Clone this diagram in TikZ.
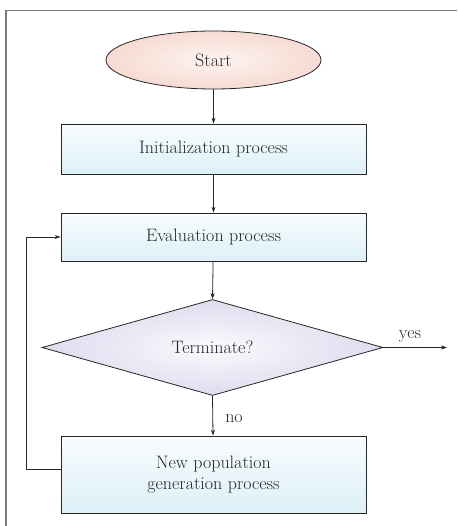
\documentclass[tikz,border=0pt]{standalone}
\usetikzlibrary{shapes.geometric,arrows.meta}
\definecolor{peachedge}{HTML}{F6DBD2}
\definecolor{peachmid}{HTML}{FDF4F1}
\definecolor{boxtop}{HTML}{F8FCFE}
\definecolor{boxbot}{HTML}{DDF0F8}
\definecolor{lavedge}{HTML}{DCDCEF}
\definecolor{lavmid}{HTML}{FAFAFD}
\definecolor{framegray}{HTML}{7A7A7A}
\definecolor{ink}{HTML}{262626}
\begin{document}
\begin{tikzpicture}[x=1pt,y=1pt,
  font=\fontsize{18}{21}\selectfont,
  every node/.style={text=ink},
  startnode/.style={ellipse, draw=ink, line width=0.8pt, minimum width=215pt,
    minimum height=58pt, inner sep=0pt, inner color=peachmid, outer color=peachedge},
  procbox/.style={rectangle, draw=ink, line width=0.8pt, minimum width=305pt,
    inner sep=0pt, top color=boxtop, bottom color=boxbot, align=center},
  decision/.style={diamond, draw=ink, line width=0.8pt, minimum width=341pt,
    minimum height=96pt, inner sep=0pt, inner color=lavmid, outer color=lavedge},
  flow/.style={draw=ink, line width=0.8pt, -{Stealth[length=6pt,width=4pt]}},
  lbl/.style={inner sep=0pt}
]
\useasboundingbox (0,0) rectangle (457,-526);
% frame edges
\draw[framegray, line width=1.5pt] (6,-526) -- (6,-10.5) -- (457,-10.5);

\node[startnode] (start) at (213.5,-60) {Start};
\node[procbox, minimum height=50pt] (init) at (213.5,-149) {Initialization process};
\node[procbox, minimum height=48pt] (eval) at (213.5,-237) {Evaluation process};
\node[decision] (term) at (212.5,-347.5) {Terminate?};
\node[procbox, minimum height=77pt] (newpop) at (213.5,-474.5) {New population\\generation process};

\coordinate (exit) at (447,-347.5);
\coordinate (loopb) at (26,-469);
\coordinate (loopt) at (26,-237);

\draw[flow] (start) -- (init);
\draw[flow] (init) -- (eval);
\draw[flow] (eval) -- (term.north);
\draw[flow] (term.east) -- (exit);
\draw[flow] (term.south) -- (newpop);
\draw[flow] (newpop.west |- loopb) -- (loopb) -- (loopt) -- (eval.west);

\node[lbl] (yes) at (410,-336) {yes};
\node[lbl] (no) at (234,-419) {no};
\end{tikzpicture}
\end{document}
